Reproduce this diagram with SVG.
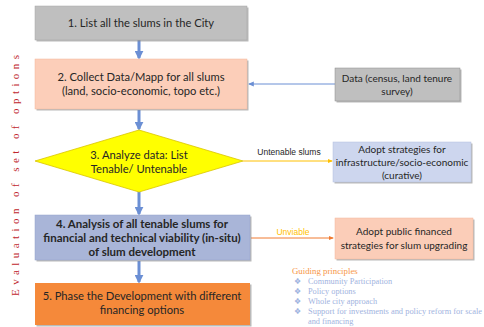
<svg xmlns="http://www.w3.org/2000/svg" width="484" height="327" viewBox="0 0 484 327">
<defs>
<style>
.t{font-family:"Lato","Open Sans","Liberation Sans",sans-serif;font-size:11.2px;fill:#262626;text-anchor:middle}
.s{font-family:"Lato","Open Sans","Liberation Sans",sans-serif;font-size:10px;fill:#262626;text-anchor:middle}
.b{font-weight:bold;font-size:11.5px}
.lbl{font-family:"Liberation Sans",Arial,sans-serif;font-size:8.5px;text-anchor:middle}
.g{font-family:"Liberation Serif","Times New Roman",serif;font-size:8.3px;fill:#9fb3e0}
.sh{fill:#8c8c8c;opacity:0.6}
</style>
<marker id="ab" viewBox="0 0 10 10" refX="8" refY="5" markerWidth="3" markerHeight="3" orient="auto"><path d="M0,0L10,5L0,10z" fill="#6b8fd4"/></marker>
<marker id="ad" viewBox="0 0 10 10" refX="8" refY="5" markerWidth="6" markerHeight="6" orient="auto"><path d="M0,1L10,5L0,9z" fill="#6b8fd4"/></marker>
<marker id="ay" viewBox="0 0 10 10" refX="8" refY="5" markerWidth="5" markerHeight="5" orient="auto"><path d="M0,1L10,5L0,9z" fill="#ffc000"/></marker>
<marker id="ao" viewBox="0 0 10 10" refX="8" refY="5" markerWidth="5" markerHeight="5" orient="auto"><path d="M0,1L10,5L0,9z" fill="#f07a30"/></marker>
</defs>
<rect width="484" height="327" fill="#ffffff"/>

<text transform="translate(19,296) rotate(-90)" font-family="Liberation Serif,Times New Roman,serif" font-size="11" fill="#c0262d" textLength="241" lengthAdjust="spacing">Evaluation of set of options</text>

<g id="connectors">
<line x1="139" y1="40" x2="139" y2="58" stroke="#6b8fd4" stroke-width="3" marker-end="url(#ab)"/>
<line x1="139" y1="110" x2="139" y2="129" stroke="#6b8fd4" stroke-width="3" marker-end="url(#ab)"/>
<line x1="139" y1="192" x2="139" y2="214" stroke="#6b8fd4" stroke-width="3" marker-end="url(#ab)"/>
<line x1="139" y1="261" x2="139" y2="282" stroke="#6b8fd4" stroke-width="3" marker-end="url(#ab)"/>
<line x1="335" y1="84" x2="249" y2="84" stroke="#6b8fd4" stroke-width="1" marker-end="url(#ad)"/>
<line x1="243" y1="161" x2="332" y2="161" stroke="#ffc000" stroke-width="1" marker-end="url(#ay)"/>
<text class="lbl" x="289" y="155" fill="#262626">Untenable slums</text>
<line x1="251" y1="238" x2="333" y2="238" stroke="#f07a30" stroke-width="1" marker-end="url(#ao)"/>
<text class="lbl" x="293" y="235" fill="#ffc000">Unviable</text>
</g>

<g id="n1">
<rect class="sh" x="36.5" y="7.5" width="212" height="34"/>
<rect x="35" y="6" width="212" height="34" fill="#bfbfbf" stroke="#a6a6a6" stroke-width="0.5"/>
<text class="t" x="141" y="27">1. List all the slums in the City</text>
</g>

<g id="n2">
<rect class="sh" x="36.5" y="60.5" width="212" height="50"/>
<rect x="35" y="59" width="212" height="50" fill="#fcceb9" stroke="#f4b89c" stroke-width="0.5"/>
<text class="t" x="141" y="81">2. Collect Data/Mapp for all slums</text>
<text class="t" x="141" y="95">(land, socio-economic, topo etc.)</text>
</g>

<g id="data">
<rect class="sh" x="336.5" y="69.5" width="125" height="33"/>
<rect x="335" y="68" width="125" height="33" fill="#bfbfbf" stroke="#8c8c8c" stroke-width="0.5"/>
<text class="s" x="397" y="82">Data (census, land tenure</text>
<text class="s" x="397" y="95">survey)</text>
</g>

<g id="n3">
<polygon points="139,130 243,161 139,192 35,161" fill="#ffff00" stroke="#d9c400" stroke-width="0.8"/>
<text class="t" x="139" y="159">3. Analyze data: List</text>
<text class="t" x="139" y="173">Tenable/ Untenable</text>
</g>

<g id="a1">
<rect class="sh" x="334.5" y="143.5" width="138" height="40"/>
<rect x="333" y="142" width="138" height="40" fill="#cdd6ee" stroke="#b4c0e0" stroke-width="0.5"/>
<text class="s" x="402" y="153">Adopt strategies for</text>
<text class="s" x="402" y="166">infrastructure/socio-economic</text>
<text class="s" x="402" y="179">(curative)</text>
</g>

<g id="n4">
<rect class="sh" x="36.5" y="216.5" width="215" height="45"/>
<rect x="35" y="215" width="215" height="45" fill="#a9b5d8" stroke="#95a3cc" stroke-width="0.5"/>
<text class="t b" x="142" y="228">4. Analysis of all tenable slums for</text>
<text class="t b" x="142" y="242">financial and technical viability (in-situ)</text>
<text class="t b" x="142" y="256">of slum development</text>
</g>

<g id="a2">
<rect class="sh" x="336.5" y="219.5" width="138" height="41"/>
<rect x="335" y="218" width="138" height="41" fill="#fbcdb8" stroke="#f4b89c" stroke-width="0.5"/>
<text class="s" x="404" y="235">Adopt public financed</text>
<text class="s" x="404" y="249">strategies for slum upgrading</text>
</g>

<g id="n5">
<rect class="sh" x="36.5" y="284.5" width="215" height="42"/>
<rect x="35" y="283" width="215" height="42" fill="#f5893a"/>
<text class="t" x="142" y="300" fill="#fde9df">5. Phase the Development with different</text>
<text class="t" x="142" y="314" fill="#fde9df">financing options</text>
</g>

<g id="guide">
<text x="292" y="274" font-family="Liberation Serif,Times New Roman,serif" font-size="8.8" fill="#f79646">Guiding principles</text>
<text class="g" x="294" y="284">❖</text><text class="g" x="308" y="284">Community Participation</text>
<text class="g" x="294" y="294">❖</text><text class="g" x="308" y="294">Policy options</text>
<text class="g" x="294" y="304">❖</text><text class="g" x="308" y="304">Whole city approach</text>
<text class="g" x="294" y="314">❖</text><text class="g" x="308" y="314" textLength="174" lengthAdjust="spacingAndGlyphs">Support for investments and policy reform for scale</text>
<text class="g" x="308" y="324">and financing</text>
</g>
</svg>
